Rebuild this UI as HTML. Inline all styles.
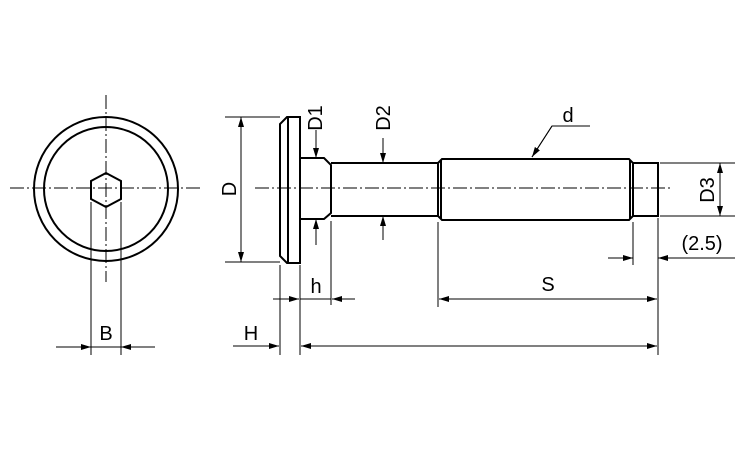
<!DOCTYPE html>
<html><head><meta charset="utf-8"><style>body{margin:0;background:#fff}svg{display:block}</style></head><body>
<svg width="750" height="450" viewBox="0 0 750 450" xmlns="http://www.w3.org/2000/svg">
<defs>
<marker id="a" viewBox="0 0 10 6" refX="10" refY="3" markerWidth="10" markerHeight="6" markerUnits="userSpaceOnUse" orient="auto-start-reverse"><path d="M0,0L10,3L0,6z" fill="#000"/></marker>
</defs>
<g fill="none" stroke="#000">
<!-- front view -->
<g stroke-width="1" stroke-dasharray="14,3,2,3">
<line x1="10" y1="188" x2="200" y2="188"/>
<line x1="106" y1="95" x2="106" y2="282"/>
<line x1="255" y1="188" x2="672" y2="188"/>
</g>
<g stroke-width="2">
<circle cx="106" cy="189" r="72"/>
<circle cx="106" cy="189" r="62"/>
<polygon points="106,173 121,181 121,199 106,207 91,199 91,181"/>
</g>
<g stroke-width="1">
<line x1="91" y1="202" x2="91" y2="355"/>
<line x1="121" y1="202" x2="121" y2="355"/>
<line x1="56" y1="347" x2="91" y2="347" marker-end="url(#a)"/>
<line x1="155" y1="347" x2="121" y2="347" marker-end="url(#a)"/>
<line x1="91" y1="347" x2="121" y2="347"/>
</g>
<!-- side view -->
<g stroke-width="2">
<path d="M287,117 L300,117 L300,263 L287,263 L280,256 L280,124 Z"/>
<line x1="288" y1="117" x2="288" y2="263"/>
<path d="M300,158 L324,158 L331,165 L331,213 L324,219 L300,219"/>
<line x1="331" y1="163" x2="438" y2="163"/>
<line x1="331" y1="216" x2="438" y2="216"/>
<path d="M438,163 L442,159 L629,159 L633,163 L633,216 L629,220 L442,220 L438,216 Z"/>
<line x1="441" y1="160" x2="441" y2="219"/>
<line x1="630" y1="160" x2="630" y2="219"/>
<path d="M633,163 L658,163 L658,216 L633,216"/>
</g>
<g stroke-width="1">
<!-- D -->
<line x1="225" y1="117" x2="280" y2="117"/>
<line x1="225" y1="262" x2="280" y2="262"/>
<line x1="241" y1="188" x2="241" y2="117" marker-end="url(#a)"/>
<line x1="241" y1="188" x2="241" y2="262" marker-end="url(#a)"/>
<!-- D1 -->
<line x1="316" y1="130" x2="316" y2="158" marker-end="url(#a)"/>
<line x1="316" y1="245" x2="316" y2="219" marker-end="url(#a)"/>
<!-- D2 -->
<line x1="383" y1="138" x2="383" y2="163" marker-end="url(#a)"/>
<line x1="383" y1="240" x2="383" y2="216" marker-end="url(#a)"/>
<!-- d leader -->
<polyline points="590,126 552,126 532,157" />
<line x1="552" y1="126" x2="532" y2="157" marker-end="url(#a)"/>
<!-- D3 -->
<line x1="660" y1="163" x2="735" y2="163"/>
<line x1="660" y1="216" x2="735" y2="216"/>
<line x1="720" y1="190" x2="720" y2="163" marker-end="url(#a)"/>
<line x1="720" y1="190" x2="720" y2="216" marker-end="url(#a)"/>
<!-- 2.5 -->
<line x1="633" y1="222" x2="633" y2="265"/>
<line x1="658" y1="218" x2="658" y2="355"/>
<line x1="608" y1="258" x2="633" y2="258" marker-end="url(#a)"/>
<line x1="735" y1="258" x2="658" y2="258" marker-end="url(#a)"/>
<!-- h, H -->
<line x1="280" y1="265" x2="280" y2="355"/>
<line x1="300" y1="265" x2="300" y2="355"/>
<line x1="331" y1="221" x2="331" y2="305"/>
<line x1="273" y1="299" x2="299" y2="299" marker-end="url(#a)"/>
<line x1="355" y1="299" x2="332" y2="299" marker-end="url(#a)"/>
<line x1="300" y1="299" x2="331" y2="299"/>
<!-- S -->
<line x1="438" y1="222" x2="438" y2="307"/>
<line x1="548" y1="299" x2="439" y2="299" marker-end="url(#a)"/>
<line x1="548" y1="299" x2="657" y2="299" marker-end="url(#a)"/>
<line x1="233" y1="346" x2="279" y2="346" marker-end="url(#a)"/>
<line x1="480" y1="346" x2="301" y2="346" marker-end="url(#a)"/>
<line x1="480" y1="346" x2="657" y2="346" marker-end="url(#a)"/>
</g>
</g>
<g font-family="Liberation Sans, sans-serif" font-size="20" fill="#000">
<text x="106" y="340" text-anchor="middle">B</text>
<text transform="translate(236,189) rotate(-90)" text-anchor="middle">D</text>
<text transform="translate(322,118) rotate(-90)" text-anchor="middle">D1</text>
<text transform="translate(390,118) rotate(-90)" text-anchor="middle">D2</text>
<text transform="translate(714,190) rotate(-90)" text-anchor="middle">D3</text>
<text x="568" y="122" text-anchor="middle">d</text>
<text x="702" y="250" text-anchor="middle">(2.5)</text>
<text x="316" y="293" text-anchor="middle">h</text>
<text x="548" y="291" text-anchor="middle">S</text>
<text x="251" y="340" text-anchor="middle">H</text>
</g>
</svg>
</body></html>
